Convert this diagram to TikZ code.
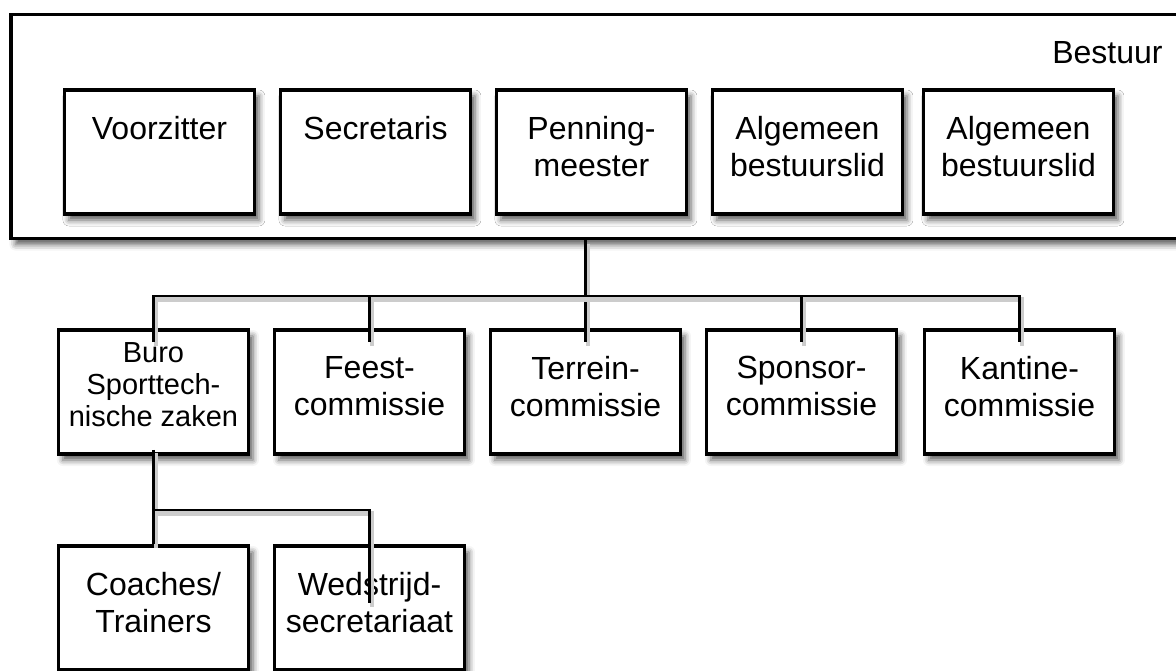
\documentclass[tikz,border=0pt]{standalone}
\usepackage{fontspec}
\setmainfont{Liberation Sans}
\usetikzlibrary{positioning, shadows.blur}
\tikzstyle{post} = [rectangle, minimum width=95pt, minimum height=62pt, draw=black, fill=white,
                    line width=1.8pt, blur shadow={shadow xshift=2.2pt, shadow yshift=-3pt,
                    shadow blur radius=3pt, shadow opacity=65}]
\tikzstyle{tekst} = [font=\fontsize{16}{18.5}\selectfont, align=center, inner sep=0pt]
\tikzstyle{kleintekst} = [font=\fontsize{14.5}{16}\selectfont, align=center, inner sep=0pt]
\tikzstyle{lijn} = [line width=1.4pt, preaction={draw=black!20, line width=2.2pt,
                    transform canvas={shift={(1.2pt,-1.8pt)}}}]
\tikzset{titel/.style={label={[tekst, anchor=north, yshift=-14pt]north:{#1}}},
         kleintitel/.style={label={[kleintekst, anchor=north, yshift=-7.2pt]north:{#1}}}}

\begin{document}
\begin{tikzpicture}[x=0.5pt, y=-0.5pt, node distance=108pt]

\useasboundingbox (0,0) rectangle (1176,670);

% bestuur
\node (bestuur) [post, minimum width=594pt, minimum height=112pt, line width=1.6pt] at (605,126.5) {};
\node (kop) [tekst, anchor=base east] at (1163,63) {Bestuur};

\node (voorzitter) [post, titel={Voorzitter}] at (159.5,152) {};
\node (secretaris) [post, titel={Secretaris}, right of=voorzitter] {};
\node (penningmeester) [post, titel={Penning-\\meester}, right of=secretaris] {};
\node (lid1) [post, titel={Algemeen\\bestuurslid}, right of=penningmeester] {};
\node (lid2) [post, titel={Algemeen\\bestuurslid}, right of=lid1, xshift=-2.5pt] {};

% commissies
\node (buro) [post, kleintitel={Buro\\Sporttech-\\nische zaken}] at (153.5,392) {};
\node (feest) [post, titel={Feest-\\commissie}, right of=buro] {};
\node (terrein) [post, titel={Terrein-\\commissie}, right of=feest] {};
\node (sponsor) [post, titel={Sponsor-\\commissie}, right of=terrein] {};
\node (kantine) [post, titel={Kantine-\\commissie}, right of=sponsor, xshift=1pt] {};

\node (coaches) [post, titel={Coaches/\\Trainers}, below of=buro] {};
\node (wedstrijd) [post, titel={Wedstrijd-\\secretariaat}, right of=coaches] {};

% lijnen
\coordinate (bus) at (586,296);
\coordinate (tak) at (154,510);

\draw [lijn] (bestuur.south -| terrein.north) -- ([yshift=-7pt]terrein.north);
\draw [lijn] ([yshift=-7pt]buro.north) |- (bus) -| ([yshift=-7pt]kantine.north);
\foreach \c in {feest, sponsor}
  \draw [lijn] (bus -| \c.north) -- ([yshift=-7pt]\c.north);

\draw [lijn] ([yshift=3pt]buro.south) -- (coaches.north);
\draw [lijn] (tak) -| ([yshift=-29.5pt]wedstrijd.north);

\end{tikzpicture}
\end{document}
